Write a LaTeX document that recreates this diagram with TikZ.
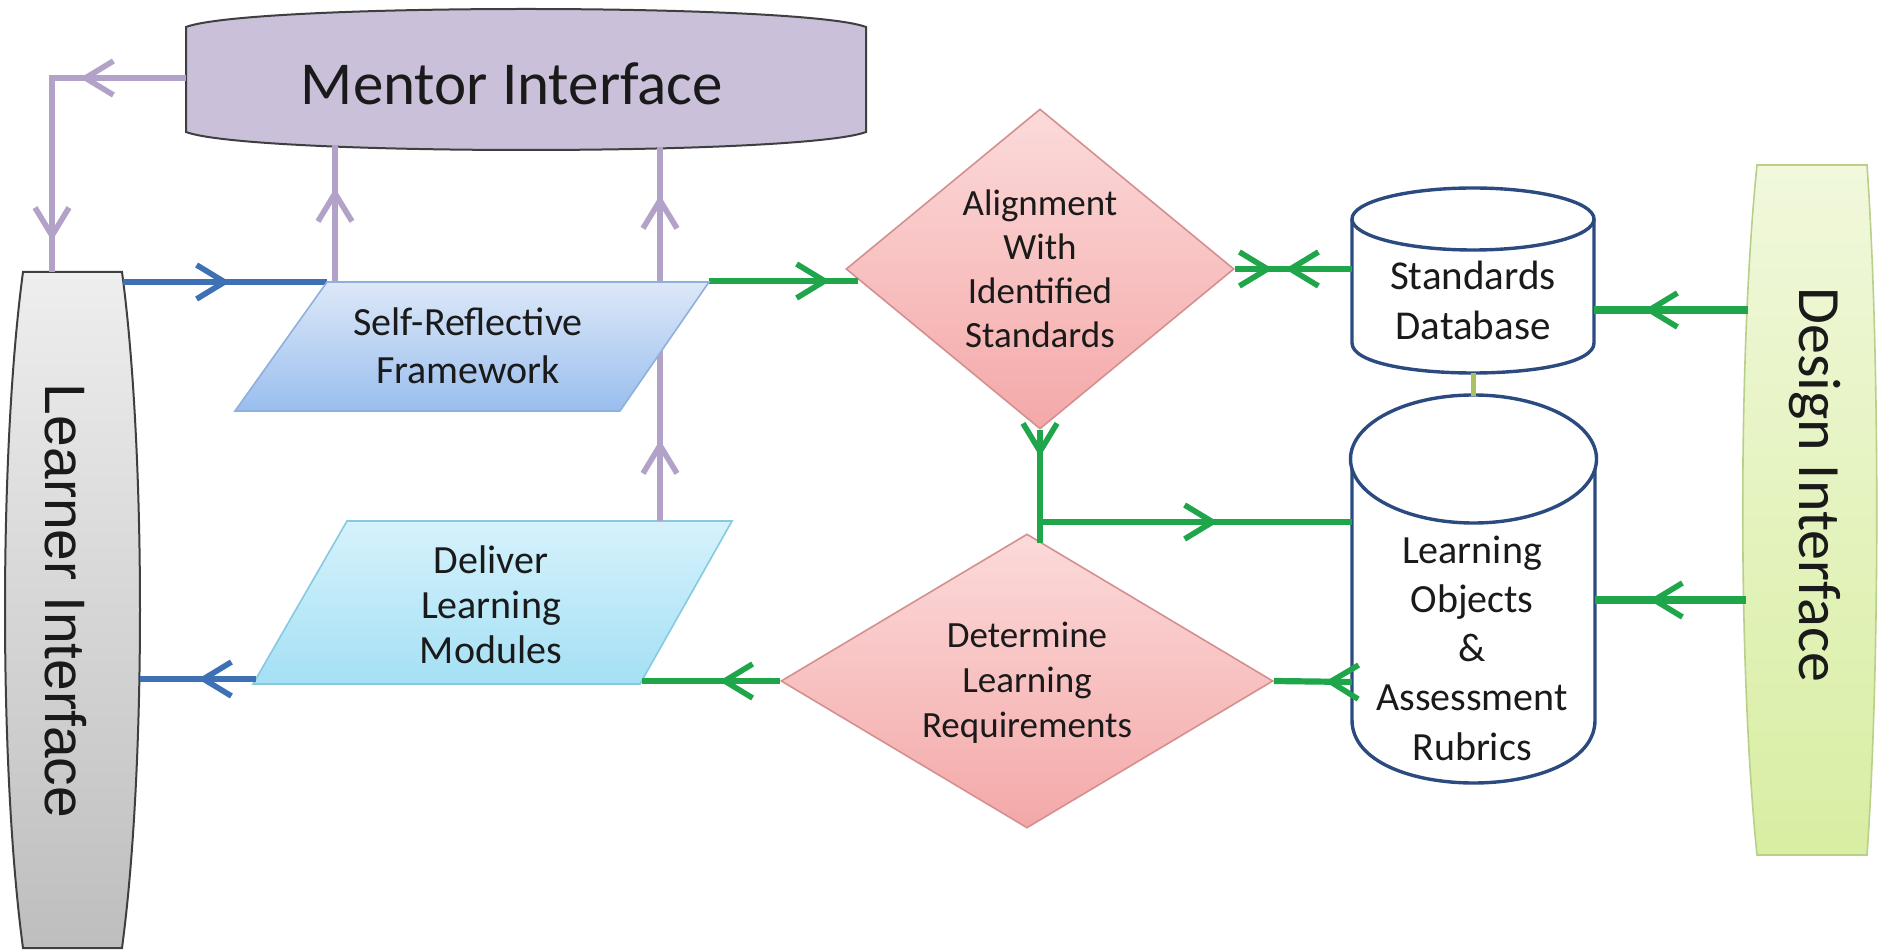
\documentclass[tikz,border=0pt]{standalone}
\usepackage{fontspec}
\setmainfont{Carlito}
\newfontfamily\arialf{Liberation Sans}
\usetikzlibrary{arrows.meta,decorations.markings,shapes.geometric}
\definecolor{gline}{HTML}{1FA54A}
\definecolor{bline}{HTML}{3E70B6}
\definecolor{pline}{HTML}{B3A2C7}
\definecolor{mfill}{HTML}{CBC0DA}
\definecolor{mborder}{HTML}{3F3F3F}
\definecolor{txt}{HTML}{1A1A1A}
\definecolor{cyl}{HTML}{2B4A80}
\definecolor{olive}{HTML}{A9C25F}
\definecolor{dtop}{HTML}{FCDADA}
\definecolor{dbot}{HTML}{F4A8A8}
\definecolor{dborder}{HTML}{D4908F}
\definecolor{srtop}{HTML}{DDE8F8}
\definecolor{srbot}{HTML}{99BEEE}
\definecolor{srborder}{HTML}{8FB0DA}
\definecolor{deltop}{HTML}{D6F2FC}
\definecolor{delbot}{HTML}{A4E0F4}
\definecolor{delborder}{HTML}{86C9E0}
\definecolor{ltop}{HTML}{EEEEEE}
\definecolor{lbot}{HTML}{BEBEBE}
\definecolor{destop}{HTML}{F1F8DC}
\definecolor{desbot}{HTML}{D8EEA2}
\definecolor{desborder}{HTML}{B8D08A}
\tikzset{
  chev/.style={postaction={decorate,decoration={markings,
      mark=at position #1 with {\arrow{Straight Barb[length=14pt,width=17pt,line width=2.8pt]}}}}},
  conn/.style={line width=3.1pt},
  pl/.style={conn,draw=pline},
  bl/.style={conn,draw=bline},
  gl/.style={conn,draw=gline},
  gthick/.style={line width=3.6pt,draw=gline},
  btxt/.style={align=center,text=txt,inner sep=0pt,font=\fontsize{20}{24}\selectfont},
  dtxt/.style={align=center,text=txt,inner sep=0pt,font=\fontsize{18.5}{22}\selectfont},
  dmd/.style={diamond,draw=dborder,line width=0.8pt,top color=dtop,bottom color=dbot,inner sep=0pt},
  cylst/.style={draw=cyl,line width=1.7pt,fill=white},
}
\begin{document}
\begin{tikzpicture}[x=0.5pt,y=-0.5pt]
\fill[white] (0,0) rectangle (1879,951);
\useasboundingbox (0,0) rectangle (1879,951);

% ---- big interface shapes ----
\draw[draw=mborder,line width=1pt,fill=mfill]
  (186,27) .. controls (250,3) and (802,3) .. (866,27) -- (866,132)
  .. controls (802,156) and (250,156) .. (186,132) -- cycle;
\node[text=txt,font=\fontsize{30.5}{36}\selectfont] (mentor) at (512,84) {Mentor Interface};

\draw[draw=mborder,line width=1pt,top color=ltop,bottom color=lbot]
  (23,272) -- (122,272) .. controls (146,450) and (146,770) .. (122,948)
  -- (23,948) .. controls (-1,770) and (-1,450) .. (23,272) -- cycle;
\node[rotate=-90,text=txt,font=\arialf\fontsize{28.5}{34}\selectfont] (learner) at (66,601) {Learner Interface};

\draw[draw=desborder,line width=0.8pt,top color=destop,bottom color=desbot]
  (1757,165) -- (1867,165) .. controls (1880,350) and (1880,670) .. (1867,855)
  -- (1757,855) .. controls (1738,670) and (1738,350) .. (1757,165) -- cycle;
\node[rotate=-90,text=txt,font=\fontsize{30}{36}\selectfont] (design) at (1815,485) {Design Interface};

% ---- diamonds ----
\node[dmd,minimum width=194pt,minimum height=160pt] (align) at (1040,269) {};
\node[dtxt] (aligntext) at (1040,269) {Alignment\\With\\Identified\\Standards};
\node[dmd,minimum width=246pt,minimum height=147pt] (det) at (1027,681) {};
\node[dtxt,font=\fontsize{18.5}{22.5}\selectfont] (dettext) at (1027,683) {Determine\\Learning\\Requirements};

% ---- cylinders ----
\draw[cylst] (1352,219) -- (1352,343) .. controls (1352,383) and (1594,383) .. (1594,343) -- (1594,219);
\draw[cylst] (1473,219) ellipse [x radius=60.5pt, y radius=15.5pt];
\node[btxt,font=\fontsize{20.5}{25}\selectfont] (sdbtext) at (1473,300) {Standards\\Database};
\draw[cylst] (1352,459) -- (1352,720) .. controls (1352,804) and (1595,804) .. (1595,720) -- (1595,459);
\draw[cylst] (1473.5,459) ellipse [x radius=61.5pt, y radius=32pt];
\node[btxt,font=\fontsize{20}{24.6}\selectfont] (lotext) at (1472,648) {Learning\\Objects\\\&\\Assessment\\Rubrics};

% ---- Deliver parallelogram ----
\draw[draw=delborder,line width=0.8pt,top color=deltop,bottom color=delbot]
  (347,521) -- (732,521) -- (640,684) -- (253,684) -- cycle;
\node[btxt,font=\fontsize{20}{22.5}\selectfont] (deltext) at (491,605) {Deliver\\Learning\\Modules};

% ---- connector end points ----
\coordinate (mentorL) at (186,78);
\coordinate (lrnTop) at (52,272);
\coordinate (srT1) at (335,282);
\coordinate (mentB1) at (335,145);
\coordinate (delTop) at (660,521);
\coordinate (mentB2) at (660,147);
\coordinate (lrnR) at (123,282);
\coordinate (srNW) at (327,282);
\coordinate (delL) at (256,679);
\coordinate (lrnR2) at (140,679);
\coordinate (srNE) at (709,281);
\coordinate (alignIn) at (858,281);
\coordinate (sdbW) at (1352,269);
\coordinate (jn) at (1040,522);
\coordinate (detIn) at (1040,543);
\coordinate (loW) at (1352,522);
\coordinate (desL1) at (1748,310);
\coordinate (sdbE) at (1594,310);
\coordinate (desL2) at (1746,600);
\coordinate (loE) at (1595,600);
\coordinate (loW2) at (1352,682);
\coordinate (delR) at (642,681);
\coordinate (sdbB) at (1473,373);
\coordinate (loT) at (1473,396);

% ---- connectors ----
\draw[pl,chev=53pt,chev=148.5pt] (mentorL) -| (lrnTop);
\draw[pl,chev=47pt] (srT1) -- (mentB1);
\draw[pl,chev=40.5pt,chev=163pt] (delTop) -- (mentB2);
\draw[bl,chev=53.5pt] (lrnR) -- (srNW);
\draw[bl,chev=29pt] (delL) -- (lrnR2);
\draw[gl,chev=60.5pt] (srNE) -- (alignIn);
\draw[gl,chev=19pt] (align.east) -- (sdbW);
\draw[gl,chev=33.5pt] (sdbW) -- (align.east);
\draw[gl,chev=13.5pt] (align.south) -- (jn) -- (detIn);
\draw[gl,chev=89pt] (jn) -- (loW);
\draw[gthick,chev=52pt] (desL1) -- (sdbE);
\draw[gthick,chev=48.5pt] (desL2) -- (loE);
\draw[gl,chev=13.5pt] (loW2) -- (det.east);
\draw[gl,chev=30.5pt] (det.west) -- (delR);
\draw[draw=olive,line width=2.5pt] (sdbB) -- (loT);

% ---- Self-Reflective parallelogram (over the purple line) ----
\draw[draw=srborder,line width=0.8pt,top color=srtop,bottom color=srbot]
  (327,282) -- (709,282) -- (620,411) -- (235,411) -- cycle;
\node[btxt] (srtext) at (468,346) {Self-Reflective\\Framework};
\end{tikzpicture}
\end{document}
